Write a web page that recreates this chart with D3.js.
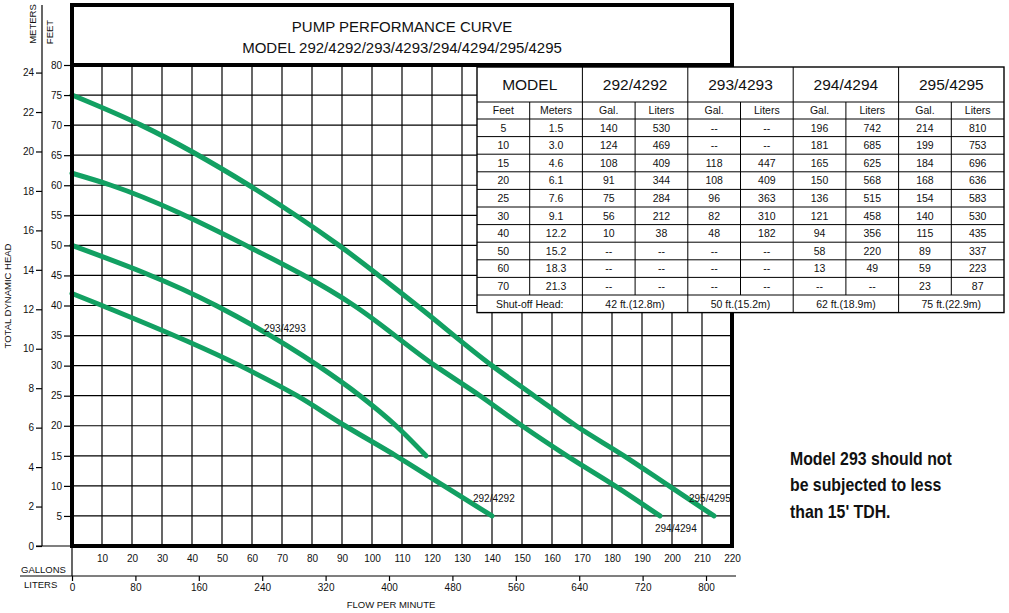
<!DOCTYPE html>
<html>
<head>
<meta charset="utf-8">
<script src="https://cdn.jsdelivr.net/npm/d3@7"></script>
<style>
  html, body { margin: 0; padding: 0; background: #fff; }
  svg { display: block; }
  text { font-family: "Liberation Sans", Arial, sans-serif; fill: #111; }
</style>
</head>
<body>
<svg id="chart" width="1009" height="613"></svg>
<script>
// ---------------- DATA ----------------
const titleLines = ["PUMP PERFORMANCE CURVE", "MODEL 292/4292/293/4293/294/4294/295/4295"];
const feetTicks = [5,10,15,20,25,30,35,40,45,50,55,60,65,70,75,80];
const meterTicks = [0,2,4,6,8,10,12,14,16,18,20,22,24];
const gallonTicks = [10,20,30,40,50,60,70,80,90,100,110,120,130,140,150,160,170,180,190,200,210,220];
const literTicks = [0,80,160,240,320,400,480,560,640,720,800];

// curve series: gallons per minute vs feet of head
const gal292 = [0,10,56,75,91,108,124,140];
const ft292  = [42,40,30,25,20,15,10,5];
const gal293 = [0,48,82,96,108,118];
const ft293  = [50,40,30,25,20,15];
const gal294 = [0,13,58,94,121,136,150,165,181,196];
const ft294  = [62,60,50,40,30,25,20,15,10,5];
const gal295 = [0,23,59,89,115,140,154,168,184,199,214];
const ft295  = [75,70,60,50,40,30,25,20,15,10,5];
const seriesNames = ["292/4292","293/4293","294/4294","295/4295"];

// table
const tableModels = ["292/4292","293/4293","294/4294","295/4295"];
const tableFeet   = ["5","10","15","20","25","30","40","50","60","70"];
const tableMeters = ["1.5","3.0","4.6","6.1","7.6","9.1","12.2","15.2","18.3","21.3"];
const tGal292 = ["140","124","108","91","75","56","10","--","--","--"];
const tLit292 = ["530","469","409","344","284","212","38","--","--","--"];
const tGal293 = ["--","--","118","108","96","82","48","--","--","--"];
const tLit293 = ["--","--","447","409","363","310","182","--","--","--"];
const tGal294 = ["196","181","165","150","136","121","94","58","13","--"];
const tLit294 = ["742","685","625","568","515","458","356","220","49","--"];
const tGal295 = ["214","199","184","168","154","140","115","89","59","23"];
const tLit295 = ["810","753","696","636","583","530","435","337","223","87"];
const shutOff = ["42 ft.(12.8m)","50 ft.(15.2m)","62 ft.(18.9m)","75 ft.(22.9m)"];
const noteLines = ["Model 293 should not","be subjected to less","than 15' TDH."];

// ---------------- LAYOUT ----------------
const svg = d3.select("#chart");
const X0 = 72, X1 = 732, Y0 = 546, Y80 = 65;
const FT_PER_M = 3.28084, L_PER_GAL = 3.78541;
const x = d3.scaleLinear().domain([0,220]).range([X0, X1]);
const y = d3.scaleLinear().domain([0,80]).range([Y0, Y80]);
const yM = d3.scaleLinear().domain([0, 80 / FT_PER_M]).range([Y0, Y80]);
const xL = d3.scaleLinear().domain([0, 220 * L_PER_GAL]).range([X0, X1]);
const green = "#12a062";

// grid
const grid = svg.append("g").attr("stroke", "#000").attr("stroke-width", 1.2);
grid.selectAll("line.h").data(feetTicks.filter(d => d < 80)).join("line")
  .attr("x1", X0).attr("x2", X1).attr("y1", d => y(d)).attr("y2", d => y(d));
grid.selectAll("line.v").data(gallonTicks.filter(d => d < 220)).join("line")
  .attr("x1", d => x(d)).attr("x2", d => x(d)).attr("y1", Y80).attr("y2", Y0);

// curves
const line = d3.line().x(d => x(d[0])).y(d => y(d[1])).curve(d3.curveMonotoneX);
const series = [
  d3.zip(gal292, ft292), d3.zip(gal293, ft293), d3.zip(gal294, ft294), d3.zip(gal295, ft295)
];
svg.append("g").selectAll("path").data(series).join("path")
  .attr("d", line).attr("fill", "none").attr("stroke", green)
  .attr("stroke-width", 5).attr("stroke-linecap", "round").attr("stroke-linejoin", "round");

// curve labels
const labelPos = [
  {s:0, gx:140, ft:5,  dx:-19, dy:-17},
  {s:1, gx:118, ft:15, dx:-162, dy:-126},
  {s:2, gx:196, ft:5,  dx:-5, dy:13},
  {s:3, gx:214, ft:5,  dx:-25, dy:-17}
];
svg.append("g").selectAll("text").data(labelPos).join("text")
  .attr("x", d => x(d.gx) + d.dx).attr("y", d => y(d.ft) + d.dy)
  .attr("font-size", 10).attr("dominant-baseline", "middle")
  .text(d => seriesNames[d.s]);

// thick frame
const frame = svg.append("g").attr("stroke", "#000").attr("stroke-width", 4).attr("fill", "none");
frame.append("path").attr("d", `M${X0},548 L${X0},5 L${X1},5 L${X1},548 M${X0-2},${Y0} L${X1+2},${Y0} M${X0},${Y80} L${X1},${Y80}`);

// title
svg.append("g").selectAll("text").data(titleLines).join("text")
  .attr("x", (X0 + X1) / 2).attr("y", (d, i) => 32 + i * 21)
  .attr("text-anchor", "middle").attr("font-size", 15).text(d => d);

// feet axis
const feetAxis = d3.axisLeft(y).tickValues(feetTicks).tickSize(6).tickPadding(2).tickSizeOuter(0);
const ga = svg.append("g").attr("transform", `translate(${X0-2},0)`).call(feetAxis);
ga.select(".domain").remove();
ga.selectAll("line").attr("stroke", "#000").attr("stroke-width", 1.2);
ga.selectAll("text").attr("font-size", 10).attr("fill", "#111").attr("font-family", "Liberation Sans, Arial, sans-serif");

// meters axis
const mAxis = d3.axisLeft(yM).tickValues(meterTicks).tickSize(6).tickPadding(2).tickSizeOuter(0);
const gm = svg.append("g").attr("transform", "translate(42,0)").call(mAxis);
gm.select(".domain").remove();
gm.selectAll("line").attr("stroke", "#000").attr("stroke-width", 1.2);
gm.selectAll("text").attr("font-size", 10).attr("fill", "#111").attr("font-family", "Liberation Sans, Arial, sans-serif");
svg.append("line").attr("x1", 42).attr("x2", 42).attr("y1", 5).attr("y2", Y0).attr("stroke", "#000").attr("stroke-width", 1.2);
svg.append("line").attr("x1", 36).attr("x2", X0).attr("y1", Y0).attr("y2", Y0).attr("stroke", "#000").attr("stroke-width", 1.2);

// axis titles
svg.append("text").attr("transform", "translate(11,296) rotate(-90)")
  .attr("text-anchor", "middle").attr("font-size", 9.5).text("TOTAL DYNAMIC HEAD");
svg.append("text").attr("transform", "translate(36,24) rotate(-90)")
  .attr("text-anchor", "middle").attr("font-size", 9.5).text("METERS");
svg.append("text").attr("transform", "translate(53,32) rotate(-90)")
  .attr("text-anchor", "middle").attr("font-size", 9.5).text("FEET");

// gallons axis
const galAxis = d3.axisBottom(x).tickValues(gallonTicks).tickSize(0).tickPadding(7);
const gg = svg.append("g").attr("transform", `translate(0,${Y0+2})`).call(galAxis);
gg.select(".domain").remove();
gg.selectAll("text").attr("font-size", 10).attr("fill", "#111").attr("font-family", "Liberation Sans, Arial, sans-serif");
svg.append("line").attr("x1", X0).attr("x2", X0).attr("y1", Y0).attr("y2", 576).attr("stroke", "#000").attr("stroke-width", 1.2);
svg.append("text").attr("x", 21).attr("y", 573).attr("font-size", 9.5).text("GALLONS");

// liters axis
const litAxis = d3.axisBottom(xL).tickValues(literTicks).tickSize(5).tickPadding(3).tickSizeOuter(0);
const gl = svg.append("g").attr("transform", "translate(0,576)").call(litAxis);
gl.select(".domain").remove();
gl.selectAll("line").attr("stroke", "#000").attr("stroke-width", 1.2);
gl.selectAll("text").attr("font-size", 10).attr("fill", "#111").attr("font-family", "Liberation Sans, Arial, sans-serif");
svg.append("line").attr("x1", 20).attr("x2", 736).attr("y1", 576).attr("y2", 576).attr("stroke", "#000").attr("stroke-width", 1.2);
svg.append("text").attr("x", 24).attr("y", 588).attr("font-size", 9.5).text("LITERS");
svg.append("text").attr("x", 391).attr("y", 608).attr("text-anchor", "middle").attr("font-size", 9.5).text("FLOW PER MINUTE");

// ---------------- TABLE ----------------
const TL = 477, TR = 1004, TT = 67, HDR = 35, SUB = 17, ROWH = 17.6;
const nCols = 10, cw = (TR - TL) / nCols;
const nRows = tableFeet.length;
const TB = TT + HDR + SUB + (nRows + 1) * ROWH;
const tg = svg.append("g");
tg.append("rect").attr("x", TL).attr("y", TT).attr("width", TR - TL).attr("height", TB - TT)
  .attr("fill", "#fff").attr("stroke", "#000").attr("stroke-width", 1.4);
const tl = tg.append("g").attr("stroke", "#000").attr("stroke-width", 1);
const hy = [TT + HDR, TT + HDR + SUB];
for (let i = 1; i <= nRows; i++) hy.push(TT + HDR + SUB + i * ROWH);
tl.selectAll("line.h").data(hy).join("line").attr("class", "h")
  .attr("x1", TL).attr("x2", TR).attr("y1", d => d).attr("y2", d => d);
const vIdx = d3.range(1, nCols);
tl.selectAll("line.v").data(vIdx).join("line").attr("class", "v")
  .attr("x1", i => TL + i * cw).attr("x2", i => TL + i * cw)
  .attr("y1", i => i % 2 === 0 ? TT : TT + HDR)
  .attr("y2", i => i % 2 === 0 ? TB : TB - ROWH);

const headerTexts = ["MODEL"].concat(tableModels);
tg.selectAll("text.hd").data(headerTexts).join("text").attr("class", "hd")
  .attr("x", (d, i) => TL + (2 * i + 1) * cw).attr("y", TT + HDR / 2 + 1)
  .attr("text-anchor", "middle").attr("dominant-baseline", "middle")
  .attr("font-size", 15.5).text(d => d);
const subTexts = ["Feet","Meters","Gal.","Liters","Gal.","Liters","Gal.","Liters","Gal.","Liters"];
tg.selectAll("text.sb").data(subTexts).join("text").attr("class", "sb")
  .attr("x", (d, i) => TL + (i + 0.5) * cw).attr("y", TT + HDR + SUB / 2 + 1)
  .attr("text-anchor", "middle").attr("dominant-baseline", "middle")
  .attr("font-size", 10.5).text(d => d);
const cols = [tableFeet, tableMeters, tGal292, tLit292, tGal293, tLit293, tGal294, tLit294, tGal295, tLit295];
const cells = [];
cols.forEach((col, c) => col.forEach((v, r) => cells.push({c, r, v})));
tg.selectAll("text.cell").data(cells).join("text").attr("class", "cell")
  .attr("x", d => TL + (d.c + 0.5) * cw).attr("y", d => TT + HDR + SUB + (d.r + 0.5) * ROWH + 1)
  .attr("text-anchor", "middle").attr("dominant-baseline", "middle")
  .attr("font-size", 10.5).text(d => d.v);
const lastRow = ["Shut-off Head:"].concat(shutOff);
tg.selectAll("text.so").data(lastRow).join("text").attr("class", "so")
  .attr("x", (d, i) => TL + (2 * i + 1) * cw).attr("y", TB - ROWH / 2 + 1)
  .attr("text-anchor", "middle").attr("dominant-baseline", "middle")
  .attr("font-size", 10.5).text(d => d);

// ---------------- NOTE ----------------
svg.append("g").attr("transform", "translate(790,0) scale(0.88,1)")
  .selectAll("text").data(noteLines).join("text")
  .attr("x", 0).attr("y", (d, i) => 465 + i * 26.5)
  .attr("font-size", 18).attr("font-weight", "bold")
  .text(d => d);
</script>
</body>
</html>
